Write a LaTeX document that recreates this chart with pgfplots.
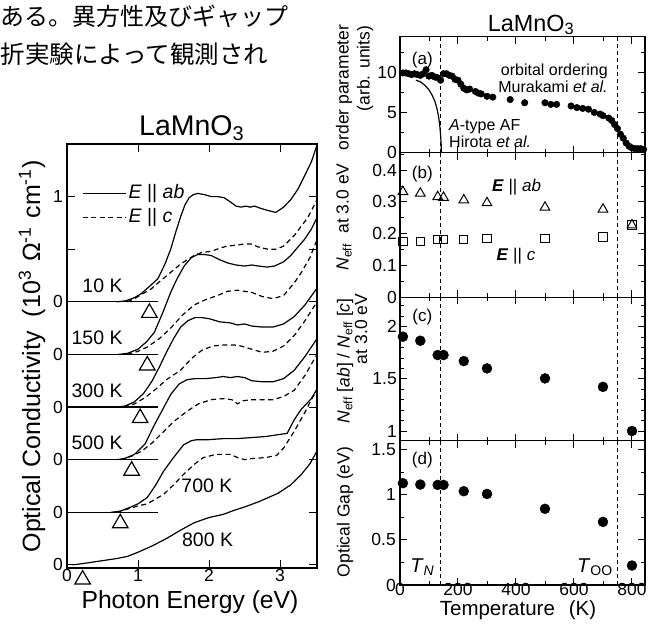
\documentclass[border=0pt]{standalone}
\usepackage{fontspec}
\setmainfont{Liberation Sans}
\newfontfamily\cjk{Noto Sans CJK JP}
\usepackage{pgfplots}
\pgfplotsset{compat=1.18}

\newcommand{\fs}[1]{\fontsize{#1pt}{#1pt}\selectfont}

\pgfplotsset{
  base/.style={scale only axis, clip=false,
    /pgf/number format/assume math mode=true,
    tick label style={font=\fs{17.5}},
    tick align=inside,
    axis line style={line width=1.1pt},
    major tick style={line width=1.0pt, black},
    minor tick style={line width=0.9pt, black},
    major tick length=7pt, minor tick length=4pt,
    xtick pos=both, ytick pos=both,
  },
  rp/.style={base, xmin=0, xmax=845, width=245pt,
    xtick={0,200,400,600,800}, minor xtick={100,300,500,700},
    xticklabels={}, yticklabel style={inner sep=3pt}},
  vl/.style={black, line width=1.1pt, dash pattern=on 4pt off 3pt},
  dot/.style={only marks, mark=*, mark options={fill=black, draw=black}},
  sl/.style={black, line width=1.2pt, mark=none},
  dl/.style={black, line width=1.2pt, mark=none, dash pattern=on 5pt off 3.5pt},
}

\begin{document}
\begin{tikzpicture}
% ---------------- left panel ----------------
\begin{axis}[base, at={(67pt,-568pt)}, anchor=south west, width=250pt, height=424pt,
  xmin=0, xmax=3.52, ymin=-0.03, ymax=4.0,
  xtick={0,1,2,3}, ytick={0,0.5,1,1.5,2,2.5,3,3.5},
  yticklabels={0,0,0,0,0,0,{},1},
  major tick length=8pt,
  xticklabel style={inner sep=1.5pt}, yticklabel style={inner sep=4pt}]
% baselines
\addplot[sl] coordinates {(0,2.5) (1.28,2.5)};
\addplot[sl] coordinates {(0,2.0) (1.28,2.0)};
\addplot[sl] coordinates {(0,1.5) (1.28,1.5)};
\addplot[sl] coordinates {(0,1.0) (1.28,1.0)};
\addplot[sl] coordinates {(0,0.5) (1.28,0.5)};
% 10 K
\addplot[sl] coordinates {(0.70,2.50) (0.83,2.51) (0.95,2.54) (1.04,2.575) (1.15,2.64) (1.28,2.72) (1.38,2.86) (1.46,3.0) (1.53,3.16) (1.6,3.31) (1.66,3.42) (1.72,3.49) (1.78,3.52) (1.84,3.53) (1.93,3.52) (2.03,3.50) (2.12,3.50) (2.21,3.49) (2.3,3.45) (2.38,3.41) (2.45,3.40) (2.52,3.41) (2.58,3.40) (2.64,3.41) (2.72,3.39) (2.82,3.37) (2.94,3.35) (3.05,3.40) (3.15,3.47) (3.25,3.57) (3.34,3.69) (3.44,3.83) (3.52,3.99)};
\addplot[dl] coordinates {(0.85,2.5) (0.95,2.53) (1.05,2.57) (1.18,2.62) (1.3,2.69) (1.46,2.78) (1.6,2.86) (1.79,2.94) (1.9,2.97) (2.03,2.98) (2.15,3.01) (2.26,3.03) (2.4,3.04) (2.5,3.05) (2.59,3.05) (2.7,3.02) (2.83,3.0) (2.95,3.0) (3.05,3.03) (3.2,3.13) (3.3,3.22) (3.39,3.30) (3.52,3.47)};
% 150 K
\addplot[sl] coordinates {(0.72,2.0) (0.85,2.01) (1.0,2.05) (1.12,2.12) (1.23,2.21) (1.35,2.40) (1.46,2.59) (1.55,2.72) (1.65,2.84) (1.75,2.92) (1.84,2.95) (1.93,2.95) (2.03,2.94) (2.15,2.90) (2.26,2.87) (2.38,2.85) (2.5,2.84) (2.6,2.85) (2.7,2.84) (2.82,2.83) (2.92,2.84) (3.05,2.88) (3.15,2.94) (3.25,3.02) (3.34,3.09) (3.44,3.19) (3.52,3.30)};
\addplot[dl] coordinates {(0.85,2.0) (1.0,2.03) (1.13,2.07) (1.3,2.15) (1.46,2.25) (1.62,2.37) (1.79,2.47) (1.95,2.52) (2.12,2.56) (2.26,2.60) (2.4,2.61) (2.5,2.60) (2.6,2.59) (2.75,2.55) (2.9,2.53) (3.05,2.56) (3.2,2.68) (3.3,2.78) (3.42,2.92) (3.52,3.09)};
% 300 K
\addplot[sl] coordinates {(0.7,1.5) (0.82,1.51) (0.95,1.55) (1.08,1.63) (1.2,1.75) (1.3,1.88) (1.4,2.02) (1.5,2.15) (1.6,2.26) (1.7,2.32) (1.8,2.35) (1.9,2.35) (2.0,2.34) (2.15,2.31) (2.3,2.30) (2.4,2.28) (2.5,2.29) (2.6,2.27) (2.75,2.26) (2.9,2.26) (3.05,2.29) (3.2,2.36) (3.35,2.47) (3.52,2.63)};
\addplot[dl] coordinates {(0.8,1.5) (0.95,1.53) (1.1,1.59) (1.25,1.67) (1.4,1.76) (1.6,1.85) (1.75,1.96) (1.9,2.04) (2.05,2.08) (2.2,2.09) (2.35,2.09) (2.45,2.08) (2.6,2.05) (2.75,2.02) (2.9,2.03) (3.05,2.08) (3.2,2.18) (3.35,2.32) (3.52,2.5)};
% 500 K
\addplot[sl] coordinates {(0.7,1.0) (0.81,1.01) (0.95,1.05) (1.1,1.15) (1.23,1.33) (1.35,1.48) (1.46,1.62) (1.58,1.72) (1.69,1.76) (1.8,1.77) (1.95,1.77) (2.1,1.78) (2.2,1.79) (2.3,1.78) (2.4,1.79) (2.5,1.78) (2.6,1.75) (2.75,1.74) (2.9,1.74) (3.05,1.77) (3.2,1.85) (3.35,1.98) (3.52,2.15)};
\addplot[dl] coordinates {(0.75,1.0) (0.9,1.03) (1.05,1.08) (1.2,1.16) (1.32,1.24) (1.5,1.36) (1.69,1.46) (1.85,1.53) (2.03,1.57) (2.2,1.58) (2.32,1.57) (2.4,1.53) (2.48,1.56) (2.6,1.57) (2.75,1.57) (2.9,1.57) (3.05,1.6) (3.2,1.66) (3.35,1.8) (3.52,2.0)};
% 700 K
\addplot[sl] coordinates {(0.62,0.5) (0.75,0.51) (0.9,0.55) (1.0,0.58) (1.13,0.64) (1.25,0.76) (1.36,0.89) (1.5,1.02) (1.64,1.14) (1.75,1.18) (1.83,1.19) (2.0,1.19) (2.2,1.20) (2.4,1.20) (2.6,1.21) (2.8,1.22) (3.0,1.24) (3.1,1.25) (3.2,1.38) (3.3,1.48) (3.44,1.58) (3.52,1.67)};
\addplot[dl] coordinates {(0.7,0.5) (0.85,0.53) (1.0,0.56) (1.13,0.58) (1.36,0.67) (1.5,0.76) (1.64,0.86) (1.8,0.96) (1.92,1.02) (2.1,1.05) (2.3,1.05) (2.4,1.02) (2.5,1.00) (2.6,1.01) (2.8,1.02) (2.95,1.04) (3.05,1.11) (3.2,1.27) (3.35,1.45) (3.44,1.57) (3.52,1.66)};
% 800 K
\addplot[sl] coordinates {(0.08,0) (0.2,0.01) (0.35,0.025) (0.5,0.04) (0.7,0.06) (0.85,0.08) (1.0,0.12) (1.2,0.18) (1.4,0.25) (1.6,0.33) (1.79,0.40) (2.0,0.45) (2.2,0.48) (2.36,0.52) (2.5,0.55) (2.7,0.6) (2.97,0.68) (3.15,0.76) (3.3,0.86) (3.42,0.96) (3.51,1.07)};
% gap markers
\addplot[only marks, mark=triangle, mark size=9pt, mark options={line width=1.2pt, black}] coordinates {(1.16,2.395) (1.13,1.895) (1.03,1.395) (0.91,0.895) (0.75,0.395) (0.22,-0.14)};
% legend
\addplot[sl] coordinates {(0.22,3.53) (0.83,3.53)};
\addplot[dl] coordinates {(0.22,3.30) (0.83,3.30)};
\node[anchor=west, font=\fs{19.5}, inner sep=1pt] at (axis cs:0.85,3.53) {\textit{E} || \textit{ab}};
\node[anchor=west, font=\fs{19.5}, inner sep=1pt] at (axis cs:0.85,3.30) {\textit{E} || \textit{c}};
% temperature labels
\node[anchor=base east, font=\fs{19.5}, inner sep=0] at (axis cs:0.785,2.59) {10 K};
\node[anchor=base east, font=\fs{19.5}, inner sep=0] at (axis cs:0.785,2.095) {150 K};
\node[anchor=base east, font=\fs{19.5}, inner sep=0] at (axis cs:0.785,1.59) {300 K};
\node[anchor=base east, font=\fs{19.5}, inner sep=0] at (axis cs:0.785,1.10) {500 K};
\node[anchor=base, font=\fs{19.5}, inner sep=0] at (axis cs:1.97,0.683) {700 K};
\node[anchor=base, font=\fs{19.5}, inner sep=0] at (axis cs:1.98,0.174) {800 K};
\end{axis}

% ---------------- right panels ----------------
% (a)
\begin{axis}[rp, at={(400pt,-152.7pt)}, anchor=south west, height=116pt,
  ymin=0, ymax=14.4, ytick={0,5,10}, minor ytick={2.5,7.5,12.5}]
\addplot[vl] coordinates {(140,0) (140,14.4)};
\addplot[vl] coordinates {(750,0) (750,14.4)};
\addplot[sl] coordinates {(55,9.0) (70,8.8) (85,8.4) (100,7.8) (110,7.2) (120,6.4) (128,5.4) (133,4.5) (137,3.4) (140,2.2) (142,1.0) (143,0)};
\addplot[dot, mark size=3.3pt] coordinates {(10,9.9) (20,9.9) (30,9.8) (40,9.7) (50,9.8) (60,9.7) (70,9.6) (80,9.8) (90,10.3) (100,9.5) (110,9.6) (120,9.4) (130,9.3) (140,9.0) (150,9.8) (160,9.8) (170,9.6) (180,9.5) (190,9.1) (200,9.0) (210,8.5) (220,8.0) (230,7.8) (240,7.9) (260,7.6) (270,7.4) (280,7.3) (300,7.0) (320,6.9) (380,6.6) (430,6.2) (500,6.2) (520,6.0) (540,6.0) (590,5.8) (610,5.6) (630,5.5) (650,5.4) (670,5.0) (690,4.8) (700,4.6) (720,4.3) (730,4.0) (740,3.5) (750,3.0) (760,2.3) (770,1.8) (780,1.2) (790,0.8) (800,0.6) (810,0.5) (820,0.5) (830,0.5) (840,0.4)};
\node[font=\fs{17}] at (axis cs:77,11.45) {(a)};
\node[anchor=base east, font=\fs{16}, inner sep=0] at (axis cs:717,9.55) {orbital ordering};
\node[anchor=base east, font=\fs{16}, inner sep=0] at (axis cs:717,7.45) {Murakami \textit{et al.}};
\node[anchor=base west, font=\fs{16}, inner sep=0] at (axis cs:169,2.7) {\textit{A}-type AF};
\node[anchor=base west, font=\fs{16}, inner sep=0] at (axis cs:169,0.6) {Hirota \textit{et al.}};
\end{axis}

% (b)
\begin{axis}[rp, at={(400pt,-297.3pt)}, anchor=south west, height=144.6pt,
  ymin=0, ymax=0.455, ytick={0,0.1,0.2,0.3,0.4}, minor ytick={0.05,0.15,0.25,0.35,0.45}]
\addplot[vl] coordinates {(140,0) (140,0.455)};
\addplot[vl] coordinates {(750,0) (750,0.455)};
\addplot[only marks, mark=triangle, mark size=5.6pt, mark options={line width=1pt, black}] coordinates {(10,0.332) (70,0.327) (130,0.316) (150,0.314) (220,0.306) (300,0.297) (500,0.283) (700,0.277) (800,0.227)};
\addplot[only marks, mark=square, mark size=4.2pt, mark options={line width=1pt, black}] coordinates {(10,0.175) (70,0.175) (130,0.182) (150,0.182) (220,0.182) (300,0.185) (500,0.185) (700,0.19) (800,0.227)};
\node[font=\fs{17}] at (axis cs:77,0.388) {(b)};
\node[font=\fs{17}] at (axis cs:402,0.348) {\textbf{\textit{E}} || \textit{ab}};
\node[font=\fs{17}] at (axis cs:400,0.128) {\textbf{\textit{E}} || \textit{c}};
\end{axis}

% (c)
\begin{axis}[rp, at={(400pt,-440.7pt)}, anchor=south west, height=143.6pt,
  ymin=0.907, ymax=2.283, ytick={1,1.5,2}, minor ytick={1.1,1.2,1.3,1.4,1.6,1.7,1.8,1.9,2.1,2.2}]
\addplot[vl] coordinates {(140,0.907) (140,2.283)};
\addplot[vl] coordinates {(750,0.907) (750,2.283)};
\addplot[dot, mark size=5pt] coordinates {(10,1.904) (70,1.865) (130,1.728) (150,1.728) (220,1.67) (300,1.6) (500,1.504) (700,1.423) (800,1.0)};
\node[font=\fs{17}] at (axis cs:77,2.096) {(c)};
\end{axis}

% (d)
\begin{axis}[rp, at={(400pt,-585pt)}, anchor=south west, height=144.3pt,
  ymin=0, ymax=1.6, ytick={0,0.5,1,1.5}, minor ytick={0.25,0.75,1.25},
  yticklabel style={inner sep=4pt},
  xticklabels={0,200,400,600,800}, xticklabel style={inner sep=1pt, yshift=3pt},
  xtick pos=both, xticklabel pos=lower]
\addplot[vl] coordinates {(140,0) (140,1.6)};
\addplot[vl] coordinates {(750,0) (750,1.6)};
\addplot[dot, mark size=5pt] coordinates {(10,1.129) (70,1.114) (130,1.11) (150,1.11) (220,1.04) (300,1.01) (500,0.845) (700,0.70) (800,0.216)};
\node[font=\fs{17}] at (axis cs:77,1.38) {(d)};
\node[font=\fs{20}] at (axis cs:77,0.2) {\textit{T}\textsubscript{\textit{N}}};
\node[font=\fs{20}] at (axis cs:672,0.2) {\textit{T}\textsubscript{OO}};
\end{axis}

% ---------------- labels and titles ----------------
\node[anchor=base, font=\fs{28.5}, inner sep=0] at (191.7pt,-135pt) {LaMnO\textsubscript{3}};
\node[anchor=base, font=\fs{23.4}, inner sep=0] at (531pt,-31pt) {LaMnO\textsubscript{3}};
\node[anchor=base, font=\fs{24.7}, inner sep=0] at (190pt,-608pt) {Photon Energy (eV)};
\node[anchor=base, font=\fs{20.5}, inner sep=0] at (518pt,-615pt) {Temperature\hspace{0.4em} (K)};
\node[rotate=90, anchor=base, font=\fs{25}, inner sep=0] at (40pt,-356.5pt) {Optical Conductivity\hspace{0.3em} (10\textsuperscript{3}\hspace{0.35em}Ω\textsuperscript{-1}\hspace{0.35em}cm\textsuperscript{-1})};
% right y labels
\node[rotate=90, font=\fs{17.5}, inner sep=0] at (344pt,-87.5pt) {order parameter};
\node[rotate=90, font=\fs{17.5}, inner sep=0] at (365pt,-68.5pt) {(arb. units)};
\node[rotate=90, font=\fs{17.5}, inner sep=0] at (344pt,-217pt) {\textit{N}\textsubscript{eff}\hspace{0.6em}at 3.0 eV};
\node[rotate=90, font=\fs{17.5}, inner sep=0] at (345pt,-361pt) {\textit{N}\textsubscript{eff} [\textit{ab}] / \textit{N}\textsubscript{eff} [\textit{c}]};
\node[rotate=90, font=\fs{17.5}, inner sep=0] at (361pt,-329pt) {at 3.0 eV};
\node[rotate=90, font=\fs{17.5}, inner sep=0] at (345pt,-512pt) {Optical Gap (eV)};
% Japanese text
\node[anchor=base west, font=\cjk\fs{24}, inner sep=0] at (0.5pt,-25.5pt) {ある。異方性及びギャップ};
\node[anchor=base west, font=\cjk\fs{24.5}, inner sep=0] at (0.5pt,-63pt) {折実験によって観測され};
\pgfresetboundingbox
\path[use as bounding box] (0pt,0pt) rectangle (652pt,-625pt);
\end{tikzpicture}
\end{document}
